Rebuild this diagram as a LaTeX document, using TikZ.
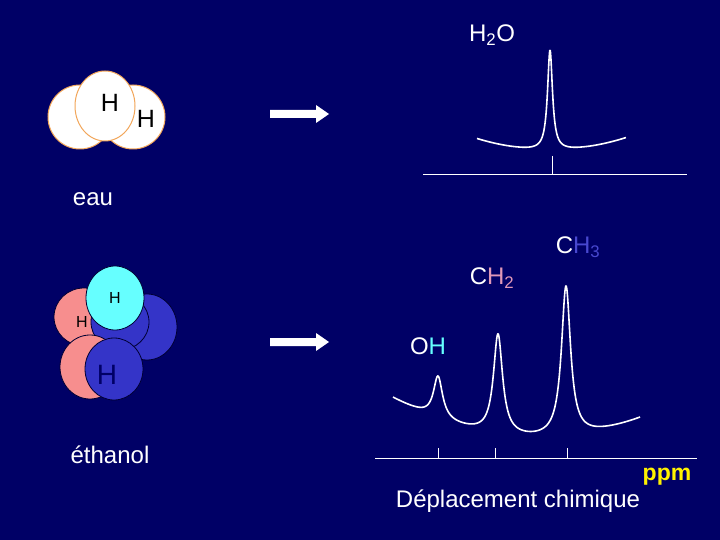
\documentclass[tikz,border=0pt]{standalone}
\usepackage{fontspec}
\setmainfont{Liberation Sans}
\begin{document}
\begin{tikzpicture}[x=1pt,y=-1pt,
  txt/.style={text=white,font=\fontsize{24}{28}\selectfont,inner sep=0},
  curve/.style={white,line width=1.6pt,line join=round},
  axis/.style={white,line width=0.8pt},
  water/.style={fill=white,draw=orange!70!brown!70!white,line width=1pt},
  atom/.style={draw=black!80!blue,line width=0.8pt},
  bigarrow/.style={fill=white,draw=none}]
\definecolor{bg}{HTML}{000066}
\definecolor{pinkat}{HTML}{F78E8E}
\definecolor{blueat}{HTML}{3434C8}
\definecolor{cyanat}{HTML}{66FFFF}
\definecolor{chtwo}{HTML}{E098B8}
\definecolor{chthree}{HTML}{4848D0}
\fill[bg] (0,0) rectangle (720,540);
\useasboundingbox (0,0) rectangle (720,540);
% water molecule
\fill[water] (80,117) circle (32);
\fill[water] (133,117) circle (32);
\fill[water] (105,106) ellipse (30 and 35);
\node[inner sep=0,font=\fontsize{25}{28}\selectfont] (h1) at (110,103) {H};
\node[inner sep=0,font=\fontsize{25}{28}\selectfont] (h2) at (146,119) {H};
\node[txt] (eau) at (93,199) {eau};
% ethanol molecule
\filldraw[atom,fill=pinkat] (84,317) ellipse (30 and 29);
\filldraw[atom,fill=blueat] (147,327) ellipse (30 and 33);
\filldraw[atom,fill=blueat] (120,322) ellipse (29 and 28);
\filldraw[atom,fill=pinkat] (90,367) ellipse (30 and 32);
\filldraw[atom,fill=blueat] (114,369) ellipse (29 and 31);
\filldraw[atom,fill=cyanat] (115,298) ellipse (29 and 32);
\node[inner sep=0,font=\fontsize{16}{18}\selectfont] (h3) at (115,298) {H};
\node[inner sep=0,font=\fontsize{16}{18}\selectfont] (h4) at (82,322) {H};
\node[inner sep=0,text=black!60!blue,font=\fontsize{28}{30}\selectfont] (h5) at (107,375) {H};
\node[txt] (eth) at (110,455) {éthanol};
% arrows
\fill[bigarrow] (270,110) -- (316,110) -- (316,105) -- (329,114) -- (316,123) -- (316,118) -- (270,118) -- cycle;
\fill[bigarrow] (270,338) -- (316,338) -- (316,333) -- (329,342) -- (316,351) -- (316,346) -- (270,346) -- cycle;
% water spectrum
\node[txt] (h2o) at (492,35) {H\textsubscript{2}O};
\draw[curve] plot[domain=477:626,samples=400,smooth] (\x,{150-12*((\x-550)/75)^2-100/(1+((\x-550)/3)^2)});
\coordinate (wa) at (423,174); \coordinate (wb) at (687,174);
\coordinate (wt) at (552,156); \coordinate (wtb) at (552,174);
\draw[axis] (wa) -- (wb);
\draw[axis] (wt) -- (wtb);
% ethanol spectrum
\draw[curve] plot[domain=393:640,samples=600,smooth] (\x,{438-0.9*((\x-540)/100)-19.1*((\x-540)/100)^2
   -42/(1+((\x-438)/5.5)^2)-100/(1+((\x-498)/5.5)^2)-150/(1+((\x-566)/5.5)^2)});
\coordinate (ea) at (375,458); \coordinate (eb) at (697,458);
\draw[axis] (ea) -- (eb);
\foreach \t in {438,495,567} {\coordinate (t\t) at (\t,448); \coordinate (u\t) at (\t,458); \draw[axis] (t\t) -- (u\t);}
\node[txt] (oh) at (428,346) {O\textcolor{cyanat}{H}};
\node[txt] (ch2) at (492,278) {C\textcolor{chtwo}{H\textsubscript{2}}};
\node[txt] (ch3) at (578,247) {C\textcolor{chthree}{H\textsubscript{3}}};
\node[inner sep=0,text=yellow,font=\bfseries\fontsize{23}{26}\selectfont] (ppm) at (667,477) {ppm};
\node[txt] (dep) at (518,501) {Déplacement chimique};
\end{tikzpicture}
\end{document}
